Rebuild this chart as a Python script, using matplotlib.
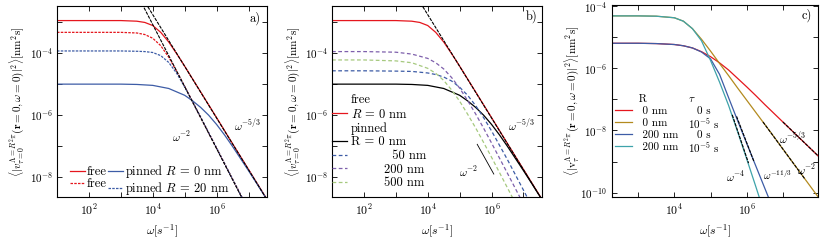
import numpy as np
import matplotlib
matplotlib.use('Agg')
import matplotlib.pyplot as plt
from matplotlib.lines import Line2D
from matplotlib.ticker import FixedLocator, NullFormatter

plt.rcParams['font.family'] = 'serif'
plt.rcParams['font.serif'] = ['cmr10', 'DejaVu Serif']
plt.rcParams['mathtext.fontset'] = 'cm'
plt.rcParams['axes.formatter.use_mathtext'] = True
plt.rcParams['axes.unicode_minus'] = False
plt.rcParams['font.size'] = 9

# all values are log10 exponents
# panel a / b : free and pinned spectra
a_x = [1, 2, 3, 3.5, 3.75, 4, 4.25, 4.5, 4.75, 5, 5.5, 6, 6.5, 7, 7.6]
free_r0 = [-2.97, -2.97, -2.97, -2.99, -3.03, -3.13, -3.35, -3.66, -4.04, -4.44, -5.27, -6.10, -6.94, -7.77, -8.77]
free_r20 = [-3.35, -3.35, -3.35, -3.37, -3.42, -3.54, -3.78, -4.15, -4.61, -5.09, -6.09, -7.08, -8.08, -9.08, -10.28]
pinned_r20 = [-3.95, -3.95, -3.95, -3.96, -3.97, -4.00, -4.10, -4.32, -4.67, -5.11, -6.08, -7.08, -8.08, -9.08, -10.28]

pin0_x = [1, 2, 3, 3.5, 4, 4.5, 5, 5.25, 5.5, 5.75, 6, 6.25, 6.5, 6.75, 7, 7.25, 7.6]
pinned_r0 = [-5.02, -5.02, -5.02, -5.03, -5.06, -5.16, -5.38, -5.56, -5.77, -6.02, -6.32, -6.66, -7.03, -7.42, -7.81, -8.21, -8.78]

# asymptotes in panel a (omega^-2, omega^-5/3)
ref2_x = [3.6, 6.9]
ref2_y = [-2.3, -8.9]
ref53_x = [3.7, 7.6]
ref53_y = [-2.28, -8.78]

# panel b : pinned with different R
b_x = [1, 2, 3, 3.5, 4, 4.25, 4.5, 4.75, 5, 5.25, 5.5, 5.75, 6, 6.5, 7, 7.5]
pinned_50 = [-4.59, -4.59, -4.60, -4.61, -4.66, -4.71, -4.79, -4.92, -5.12, -5.38, -5.71, -6.10, -6.53, -7.46, -8.44, -9.43]
pinned_200 = [-3.97, -3.97, -3.99, -4.05, -4.19, -4.33, -4.53, -4.81, -5.15, -5.55, -5.98, -6.44, -6.92, -7.90, -8.89, -9.88]
pinned_500 = [-4.24, -4.24, -4.27, -4.33, -4.51, -4.67, -4.90, -5.21, -5.57, -5.99, -6.43, -6.90, -7.38, -8.37, -9.36, -10.36]
refb_x = [5.55, 6.07]
refb_y = [-6.96, -7.92]

# panel c : R and tau
c_x = [2.27, 3, 3.5, 4, 4.25, 4.5, 4.75, 5, 5.25, 5.5, 5.75, 6, 6.25, 6.5, 6.75, 7, 7.5, 8]
c_r0_t0 = [-5.20, -5.20, -5.21, -5.24, -5.28, -5.35, -5.47, -5.63, -5.83, -6.06, -6.33, -6.60, -6.88, -7.17, -7.45, -7.73, -8.29, -8.85]
c_r0_t5 = [-4.32, -4.32, -4.33, -4.38, -4.49, -4.73, -5.07, -5.45, -5.85, -6.24, -6.64, -7.03, -7.42, -7.81, -8.20, -8.60, -9.39, -10.18]
c_r200_t0 = [-5.20, -5.20, -5.21, -5.24, -5.28, -5.35, -5.48, -5.70, -6.20, -6.95, -7.69, -8.42, -9.14, -9.86, -10.58, -11.30, -13.0, -14.8]
c_r200_t5 = [-4.32, -4.32, -4.33, -4.38, -4.49, -4.73, -5.12, -5.75, -6.45, -7.20, -8.05, -8.92, -9.80, -10.70, -11.6, -12.5, -14.3, -16.1]
refc_53 = ([7.0, 8.0], [-7.73, -8.85])
refc_2 = ([6.45, 7.6], [-7.73, -9.55])
refc_113 = ([5.72, 6.2], [-7.55, -9.0])
refc_4 = ([5.6, 6.05], [-7.5, -9.05])

c_R_labels = ['0 nm', '0 nm', '200 nm', '200 nm']
c_tau_labels = ['0 s', r'$10^{-5}$ s', '0 s', r'$10^{-5}$ s']

RED = '#e5161d'
BLUE = '#3d5ca6'
PURPLE = '#7e60ac'
GREEN = '#a6c97f'
OLIVE = '#b38a1e'
CYAN = '#3ea3aa'
LW = 0.9


def lg(v):
    return 10.0 ** np.asarray(v, dtype=float)


def setup(ax, xl, yl):
    ax.set_xscale('log')
    ax.set_yscale('log')
    ax.set_xlim(10 ** xl[0], 10 ** xl[1])
    ax.set_ylim(10 ** yl[0], 10 ** yl[1])
    xe = range(int(np.ceil(xl[0])), int(np.floor(xl[1])) + 1)
    ye = range(int(np.ceil(yl[0])), int(np.floor(yl[1])) + 1)
    ax.xaxis.set_major_locator(FixedLocator([10.0 ** k for k in xe if k % 2 == 0]))
    ax.xaxis.set_minor_locator(FixedLocator([10.0 ** k for k in xe if k % 2 != 0]))
    ax.yaxis.set_major_locator(FixedLocator([10.0 ** k for k in ye if k % 2 == 0]))
    ax.yaxis.set_minor_locator(FixedLocator([10.0 ** k for k in ye if k % 2 != 0]))
    ax.xaxis.set_minor_formatter(NullFormatter())
    ax.yaxis.set_minor_formatter(NullFormatter())
    ax.tick_params(which='both', direction='in', top=True, right=True,
                   length=3.5, width=0.6, labelsize=8.5, pad=4)
    ax.tick_params(axis='y', labelsize=8, pad=3)
    for s in ax.spines.values():
        s.set_linewidth(0.8)
    ax.set_xlabel(r'$\omega[s^{-1}]$', fontsize=8.5, labelpad=4)


fig = plt.figure(figsize=(8.3, 2.46), dpi=100)
ylab_ab = r'$\langle|v_{\tau=0}^{\Lambda=R^2\pi}(\mathbf{r}=0,\omega=0)|^2\rangle[\mathrm{nm}^2\mathrm{s}]$'
ylab_c = r'$\langle|\mathrm{v}_{\tau}^{\Lambda=R^2\pi}(\mathbf{r}=0,\omega=0)|^2\rangle[\mathrm{nm}^2\mathrm{s}]$'

# ---- a)
ax = fig.add_axes([0.0687, 0.1992, 0.2530, 0.7764])
setup(ax, (1, 7.58), (-8.66, -2.5))
ax.plot(lg(a_x), lg(free_r0), color=RED, lw=LW)
ax.plot(lg(a_x), lg(free_r20), color=RED, lw=LW, dashes=(2, 1))
ax.plot(lg(pin0_x), lg(pinned_r0), color=BLUE, lw=LW)
ax.plot(lg(a_x), lg(pinned_r20), color=BLUE, lw=LW, dashes=(2, 1))
ax.plot(lg(ref2_x), lg(ref2_y), color='k', lw=0.8, dashes=(3, 1))
ax.plot(lg(ref53_x), lg(ref53_y), color='k', lw=0.8, dashes=(3, 1))
ax.text(0.943, 0.937, 'a)', transform=ax.transAxes, ha='center', va='center')
ax.text(0.595, 0.314, r'$\omega^{-2}$', transform=ax.transAxes, ha='center', va='center', fontsize=8)
ax.text(0.905, 0.377, r'$\omega^{-5/3}$', transform=ax.transAxes, ha='center', va='center', fontsize=8)
ax.set_ylabel(ylab_ab, fontsize=8)
ax.yaxis.set_label_coords(-0.145, 0.5)
h = [Line2D([], [], color=RED, lw=LW), Line2D([], [], color=RED, lw=LW, dashes=(2, 1)),
     Line2D([], [], color=BLUE, lw=LW), Line2D([], [], color=BLUE, lw=LW, dashes=(2, 1))]
ax.legend(h, ['free', 'free', r'pinned $R$ = 0 nm', r'pinned $R$ = 20 nm'], ncol=2,
          loc='lower left', bbox_to_anchor=(0.06, 0.0), frameon=False, fontsize=9,
          handlelength=1.2, handletextpad=0.15, columnspacing=0.15, labelspacing=0.0,
          borderpad=0, borderaxespad=0)

# ---- b)
ax = fig.add_axes([0.4, 0.1992, 0.2530, 0.7764])
setup(ax, (1, 7.58), (-8.66, -2.5))
ax.plot(lg(a_x), lg(free_r0), color=RED, lw=LW)
ax.plot(lg(pin0_x), lg(pinned_r0), color='k', lw=LW)
ax.plot(lg(b_x), lg(pinned_50), color=BLUE, lw=LW, dashes=(3, 2))
ax.plot(lg(b_x), lg(pinned_200), color=PURPLE, lw=LW, dashes=(3, 2))
ax.plot(lg(b_x), lg(pinned_500), color=GREEN, lw=LW, dashes=(3, 2))
ax.plot(lg(ref53_x), lg(ref53_y), color='k', lw=0.8, dashes=(3, 1))
ax.plot(lg(refb_x), lg(refb_y), color='k', lw=0.6)
ax.text(0.95, 0.944, 'b)', transform=ax.transAxes, ha='center', va='center')
ax.text(0.65, 0.13, r'$\omega^{-2}$', transform=ax.transAxes, ha='center', va='center', fontsize=8)
ax.text(0.903, 0.377, r'$\omega^{-5/3}$', transform=ax.transAxes, ha='center', va='center', fontsize=8)
ax.set_ylabel(ylab_ab, fontsize=8)
ax.yaxis.set_label_coords(-0.14, 0.5)
blank = Line2D([], [], color='none')
h = [blank, Line2D([], [], color=RED, lw=LW), blank, Line2D([], [], color='k', lw=LW),
     Line2D([], [], color=BLUE, lw=LW, dashes=(3, 2)),
     Line2D([], [], color=PURPLE, lw=LW, dashes=(3, 2)),
     Line2D([], [], color=GREEN, lw=LW, dashes=(3, 2))]
lab = ['free', r'$R$ = 0 nm', 'pinned', 'R = 0 nm', '          50 nm', '        200 nm', '        500 nm']
ax.legend(h, lab, loc='lower left', bbox_to_anchor=(0.0, 0.04), frameon=False, fontsize=9,
          handlelength=1.2, handletextpad=0.3, labelspacing=0.12, borderpad=0, borderaxespad=0)

# ---- c)
ax = fig.add_axes([0.737, 0.1992, 0.249, 0.7805])
setup(ax, (2.27, 7.98), (-10.14, -3.97))
lines = []
for ys, col in ((c_r0_t0, RED), (c_r0_t5, OLIVE), (c_r200_t0, BLUE), (c_r200_t5, CYAN)):
    lines.append(ax.plot(lg(c_x), lg(ys), color=col, lw=LW)[0])
for rx, ry in (refc_53, refc_2, refc_113, refc_4):
    ax.plot(lg(rx), lg(ry), color='k', lw=0.8, dashes=(3, 1))
ax.text(0.942, 0.948, 'c)', transform=ax.transAxes, ha='center', va='center')
ax.text(0.877, 0.305, r'$\omega^{-5/3}$', transform=ax.transAxes, ha='center', va='center', fontsize=8)
ax.text(0.945, 0.14, r'$\omega^{-2}$', transform=ax.transAxes, ha='center', va='center', fontsize=8)
ax.text(0.80, 0.115, r'$\omega^{-11/3}$', transform=ax.transAxes, ha='center', va='center', fontsize=7.5)
ax.text(0.60, 0.104, r'$\omega^{-4}$', transform=ax.transAxes, ha='center', va='center', fontsize=8)
ax.set_ylabel(ylab_c, fontsize=8)
ax.yaxis.set_label_coords(-0.15, 0.5)
leg = ax.legend([blank] + lines, [' R'] + ['  ' + s for s in c_R_labels],
                loc='upper left', bbox_to_anchor=(0.016, 0.535), frameon=False, fontsize=8,
                handlelength=1.5, handletextpad=0.3, labelspacing=0.2,
                borderpad=0, borderaxespad=0)
# tau column, aligned with legend rows
fig.canvas.draw()
inv = ax.transAxes.inverted()
tau_x = 0.37
for t, s in zip(leg.get_texts(), [r'$\tau$'] + c_tau_labels):
    bb = t.get_window_extent()
    yc = inv.transform((0, (bb.y0 + bb.y1) / 2))[1]
    dx = 0.045 if s == '0 s' else 0.0
    ax.text(tau_x + dx, yc, s, transform=ax.transAxes, ha='left', va='center', fontsize=8)

fig.savefig('out.png', dpi=100)
